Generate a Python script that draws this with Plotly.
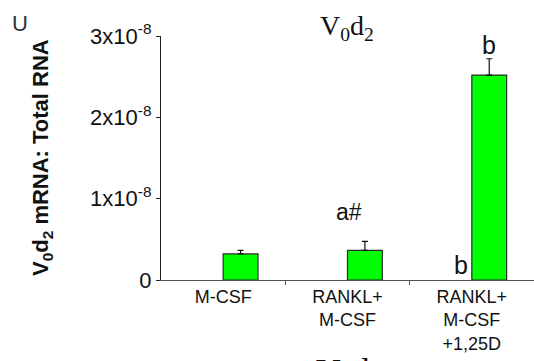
import plotly.graph_objects as go

# Treatment groups (x-axis categories) and mean V0d2 mRNA / total RNA
categories = ["M-CSF", "RANKL+<br>M-CSF", "RANKL+<br>M-CSF<br>+1,25D"]
means = [0.32e-8, 0.365e-8, 2.52e-8]
errors_up = [0.045e-8, 0.11e-8, 0.20e-8]

# y-axis ticks
tick_vals = [0, 1e-8, 2e-8, 3e-8]
tick_text = ["0", "1x10<sup>-8</sup>", "2x10<sup>-8</sup>", "3x10<sup>-8</sup>"]

# significance letters: (category position, y, text, size)
sig_labels = [
    (1.01, 0.84e-8, "a#", 23),
    (2.14, 2.89e-8, "b", 25),
    (1.91, 0.18e-8, "b", 25),
]

W, H = 534, 361
ML, MR, MT, MB = 161, 0, 36, 81

fig = go.Figure()
fig.add_trace(go.Bar(
    x=list(range(len(categories))),
    y=means,
    width=0.28,
    offset=0.0,
    marker=dict(color="#00FF00", line=dict(color="#2a2a2a", width=1.2)),
    error_y=dict(type="data", symmetric=False, array=errors_up,
                 arrayminus=[0] * len(means), color="#111111",
                 thickness=1.2, width=3),
))

annotations = []
for xpos, yv, txt, sz in sig_labels:
    annotations.append(dict(
        x=xpos, y=yv, xref="x", yref="y", text=txt, showarrow=False,
        font=dict(family="Arial, Liberation Sans", size=sz, color="#111111"),
        xanchor="center", yanchor="middle"))

plot_w = W - ML - MR
plot_h = H - MT - MB
def px_x(p):
    return (p - ML) / plot_w
def px_y(p):
    return (H - MB - p) / plot_h

# chart title
annotations.append(dict(
    x=px_x(347), y=px_y(28), xref="paper", yref="paper",
    text="V<sub>0</sub>d<sub>2</sub>", showarrow=False,
    font=dict(family="Times New Roman, Liberation Serif, serif", size=28, color="#111111"),
    xanchor="center", yanchor="middle"))
# y-axis title
annotations.append(dict(
    x=px_x(42), y=px_y(158), xref="paper", yref="paper",
    text="<b>V<sub>0</sub>d<sub>2</sub> mRNA: Total RNA</b>", showarrow=False,
    textangle=-90,
    font=dict(family="Arial, Liberation Sans", size=22, color="#111111"),
    xanchor="center", yanchor="middle"))
# panel letter
annotations.append(dict(
    x=px_x(20), y=px_y(23), xref="paper", yref="paper",
    text="U", showarrow=False,
    font=dict(family="Arial, Liberation Sans", size=22, color="#333333"),
    xanchor="center", yanchor="middle"))
# x-axis title (runs off the lower edge)
annotations.append(dict(
    x=px_x(348), y=px_y(350), xref="paper", yref="paper",
    text="V<sub>0</sub>d<sub>2</sub>", showarrow=False,
    font=dict(family="Times New Roman, Liberation Serif, serif", size=34, color="#111111"),
    xanchor="center", yanchor="top"))

fig.update_layout(
    width=W, height=H,
    margin=dict(l=ML, r=MR, t=MT, b=MB),
    paper_bgcolor="white", plot_bgcolor="white",
    showlegend=False,
    annotations=annotations,
    xaxis=dict(
        tickmode="array", tickvals=list(range(len(categories))), ticktext=categories,
        range=[-0.5, 2.5],
        showline=True, linecolor="#555555", linewidth=1.2,
        ticks="", showgrid=False, zeroline=False,
        tickfont=dict(family="Arial, Liberation Sans", size=18, color="#111111"),
    ),
    yaxis=dict(
        range=[0, 3e-8], tickvals=tick_vals, ticktext=tick_text,
        showline=True, linecolor="#222222", linewidth=1.2,
        ticks="outside", ticklen=4, tickcolor="#222222", tickwidth=1,
        showgrid=False, zeroline=False,
        tickfont=dict(family="Arial, Liberation Sans", size=22, color="#111111"),
    ),
)

# category boundary ticks on the x-axis
fig.update_xaxes(minor=dict(tickmode="array", tickvals=[0.5, 1.5],
                            ticks="outside", ticklen=4, tickcolor="#555555"))

fig.write_html("out.html")
